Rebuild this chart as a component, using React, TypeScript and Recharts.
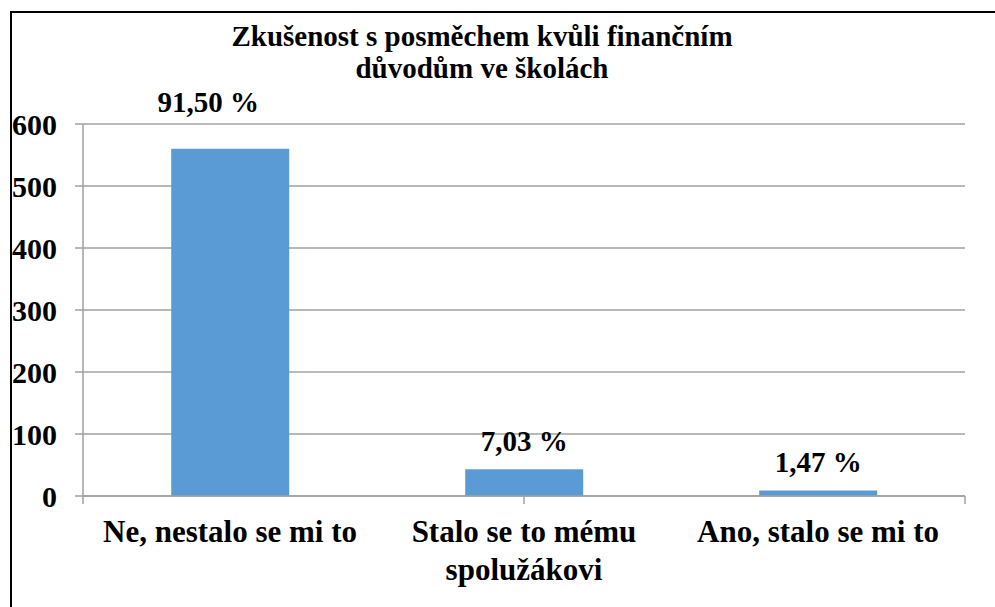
import React from 'react'
import { Bar, BarChart, CartesianGrid, LabelList, XAxis, YAxis } from 'recharts'

// category names, with the line break used on the axis
const categories = ['Ne, nestalo se mi to', 'Stalo se to mému\nspolužákovi', 'Ano, stalo se mi to']
const counts = [560, 43, 9]
const percentLabels = ['91,50 %', '7,03 %', '1,47 %']
const yTicks = [0, 100, 200, 300, 400, 500, 600]
const edgeTicks = [0, 1, 2, 3]

const data = categories.map((name, i) => ({ name, value: counts[i], label: percentLabels[i] }))

const FONT = 'Liberation Serif'
const GRAY = '#A0A0A0'

function CategoryTick({ x, y, payload }: any) {
  const lines = String(payload.value).split('\n')
  return (
    <text
      x={x}
      y={y + 38}
      textAnchor="middle"
      fontFamily={FONT}
      fontSize={31}
      fontWeight="bold"
      fill="#000"
    >
      {lines.map((line, i) => (
        <tspan key={i} x={x} dy={i === 0 ? 0 : 38}>
          {line}
        </tspan>
      ))}
    </text>
  )
}

// boundary ticks only need their tick line, no text
const EmptyTick = () => <g />

function PercentLabel({ x, y, width, value, index }: any) {
  // the first label was dragged up and to the left in the original
  const lift = index === 0 ? 37 : 18
  const dx = index === 0 ? -22 : 0
  return (
    <text
      x={x + width / 2 + dx}
      y={y - lift}
      textAnchor="middle"
      fontFamily={FONT}
      fontSize={29}
      fontWeight="bold"
      fill="#000"
    >
      {value}
    </text>
  )
}

export default function App() {
  return (
    <div style={{ position: 'absolute', left: 0, top: 0, width: 995, height: 607, overflow: 'hidden', background: '#fff' }}>
      <div
        style={{
          position: 'absolute',
          left: 10,
          top: 11,
          width: 1100,
          height: 700,
          border: '2px solid #000',
          boxSizing: 'border-box',
        }}
      />
      <div
        style={{
          position: 'absolute',
          left: 182,
          top: 20,
          width: 600,
          textAlign: 'center',
          fontFamily: FONT,
          fontWeight: 'bold',
          fontSize: 29,
          lineHeight: '32px',
          color: '#000',
        }}
      >
        Zkušenost s posměchem kvůli finančním
        <br />
        důvodům ve školách
      </div>
      <div style={{ position: 'absolute', left: 0, top: 0 }}>
        <BarChart
          width={995}
          height={607}
          data={data}
          margin={{ top: 124, right: 30, left: 0, bottom: 0 }}
          barCategoryGap="30%"
        >
          <CartesianGrid vertical={false} stroke={GRAY} strokeWidth={1.5} />
          <XAxis
            xAxisId="a"
            type="number"
            domain={[0, 3]}
            ticks={edgeTicks}
            interval={0}
            height={8}
            tick={<EmptyTick />}
            axisLine={{ stroke: GRAY, strokeWidth: 1.5 }}
            tickSize={8}
            tickLine={{ stroke: GRAY, strokeWidth: 1.5 }}
          />
          <XAxis
            xAxisId="b"
            dataKey="name"
            height={103}
            tickLine={false}
            tickSize={0}
            tickMargin={0}
            axisLine={false}
            tick={<CategoryTick />}
            interval={0}
          />
          <YAxis
            width={83}
            domain={[0, 600]}
            ticks={yTicks}
            interval={0}
            tickSize={8}
            tickMargin={18}
            axisLine={{ stroke: GRAY, strokeWidth: 1.5 }}
            tickLine={{ stroke: GRAY, strokeWidth: 1.5 }}
            tick={{ fill: '#000', fontFamily: FONT, fontSize: 30, fontWeight: 'bold' }}
          />
          <Bar xAxisId="b" dataKey="value" fill="#5B9BD5" isAnimationActive={false}>
            <LabelList dataKey="label" content={<PercentLabel />} />
          </Bar>
        </BarChart>
      </div>
    </div>
  )
}
